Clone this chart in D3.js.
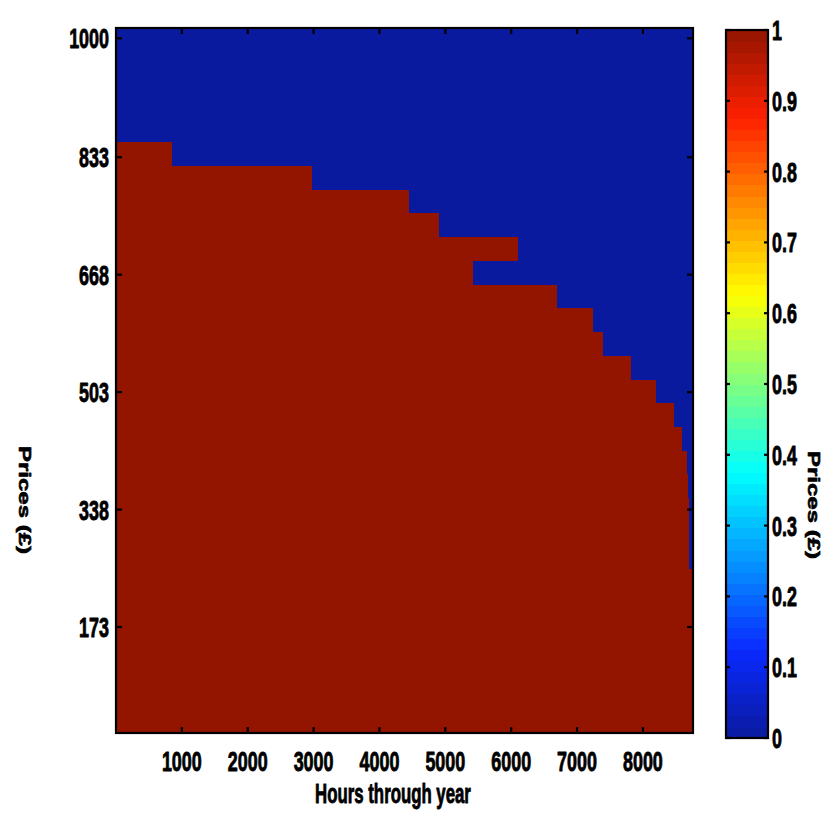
<!DOCTYPE html>
<html><head><meta charset="utf-8">
<script src="https://cdn.jsdelivr.net/npm/d3@7"></script>
<style>html,body{margin:0;padding:0;background:#fff}svg{display:block}</style>
</head><body><svg id="c" width="826" height="813"></svg>
<script>
// ---- data ----
const xTicks = [1000, 2000, 3000, 4000, 5000, 6000, 7000, 8000];
const yTicks = [173, 338, 503, 668, 833, 1000];
const cTicks = [0, 0.1, 0.2, 0.3, 0.4, 0.5, 0.6, 0.7, 0.8, 0.9, 1];
const hourRange = [0.5, 8760.5];
const priceRange = [24.1, 1014.5];
// price band edges, top to bottom (30 rows)
const priceEdges = [1014.5, 987.1, 953.8, 920.5, 887.2, 853.9, 820.6, 787.3, 754.0, 720.6,
  687.3, 654.0, 620.6, 587.3, 554.0, 520.6, 487.3, 454.0, 420.6, 387.3,
  354.0, 320.6, 287.3, 254.0, 220.6, 187.3, 154.0, 120.6, 87.3, 54.0, 24.1];
// last hour of each row that has value 1 (value 1 from hour 1 to this hour, 0 after)
const redEndHour = [0, 0, 0, 0, 0, 855, 2980, 4453, 4904, 6107,
  5424, 6700, 7246, 7393, 7819, 8194, 8476, 8593, 8664, 8684,
  8705, 8705, 8705, 8760, 8760, 8760, 8760, 8760, 8760, 8760];
const jetStops = [0, 0.125, 0.375, 0.625, 0.875, 1];
const jetColors = ["#0a1a9e", "#0a2aff", "#00ffff", "#ffff00", "#ff2000", "#931500"];
const xLabel = "Hours through year";
const yLabel = "Prices (£)";
const cLabel = "Prices (£)";

// ---- layout ----
const L = 116, R = 693, T = 28, B = 733;
const CL = 726, CR = 768, CT = 30, CB = 738;
const SX = 0.64; // horizontal text compression

const svg = d3.select("#c");
const x = d3.scaleLinear().domain(hourRange).range([L, R]);
const y = d3.scaleLinear().domain(priceRange).range([B, T]);
const jet = d3.scaleLinear().domain(jetStops).range(jetColors).interpolate(d3.interpolateRgb);
const cs = d3.scaleLinear().domain([0, 1]).range([CB, CT]);

// cells
const cells = [];
redEndHour.forEach((e, i) => {
  const top = priceEdges[i], bot = priceEdges[i + 1];
  if (e > 0) cells.push({x0: hourRange[0], x1: e + 0.5, top, bot, v: 1});
  if (e < 8760) cells.push({x0: e + 0.5, x1: hourRange[1], top, bot, v: 0});
});
svg.append("g").selectAll("rect").data(cells).join("rect")
  .attr("x", d => x(d.x0)).attr("width", d => x(d.x1) - x(d.x0))
  .attr("y", d => y(d.top)).attr("height", d => y(d.bot) - y(d.top) + 0.5)
  .attr("fill", d => jet(d.v)).attr("shape-rendering", "crispEdges");

// frame + ticks
const ax = svg.append("g").attr("stroke", "#000").attr("stroke-width", 2.2).attr("fill", "none");
ax.append("rect").attr("x", L).attr("y", T).attr("width", R - L).attr("height", B - T);
const tl = 6;
xTicks.forEach(v => {
  ax.append("line").attr("x1", x(v)).attr("x2", x(v)).attr("y1", B).attr("y2", B - tl);
  ax.append("line").attr("x1", x(v)).attr("x2", x(v)).attr("y1", T).attr("y2", T + tl);
});
yTicks.forEach(v => {
  ax.append("line").attr("x1", L).attr("x2", L + tl).attr("y1", y(v)).attr("y2", y(v));
  ax.append("line").attr("x1", R).attr("x2", R - tl).attr("y1", y(v)).attr("y2", y(v));
});

function txt(g, s, px, py, anchor, size, extra) {
  const gg = g.append("g").attr("transform", `translate(${px},${py}) ${extra || `scale(${SX},1)`}`);
  gg.append("text").text(s).attr("text-anchor", anchor)
    .attr("font-family", "'Liberation Sans', Arial, sans-serif").attr("font-weight", "bold")
    .attr("font-size", size).attr("fill", "#000")
    .attr("stroke", "#000").attr("stroke-width", 0.9).attr("stroke-linejoin", "round");
}
const tg = svg.append("g");
xTicks.forEach(v => txt(tg, String(v), x(v), 771, "middle", 28));
yTicks.forEach(v => txt(tg, String(v), 109, y(v) + 10, "end", 28));
txt(tg, xLabel, 393, 803, "middle", 28, "scale(0.6,1)");
txt(tg, yLabel, 19, 500, "middle", 24, "scale(0.72,1) rotate(90)");

// colorbar
const nb = 64;
const bands = d3.range(nb).map(i => ({a: i / nb, b: (i + 1) / nb, c: (i + 0.5) / nb}));
svg.append("g").selectAll("rect").data(bands).join("rect")
  .attr("x", CL).attr("width", CR - CL)
  .attr("y", d => cs(d.b)).attr("height", d => cs(d.a) - cs(d.b) + 0.6)
  .attr("fill", d => jet(d.c)).attr("shape-rendering", "crispEdges");
const cg = svg.append("g").attr("stroke", "#000").attr("stroke-width", 2.2).attr("fill", "none");
cg.append("rect").attr("x", CL).attr("y", CT).attr("width", CR - CL).attr("height", CB - CT);
cTicks.forEach(v => {
  cg.append("line").attr("x1", CL).attr("x2", CL + 4).attr("y1", cs(v)).attr("y2", cs(v));
  cg.append("line").attr("x1", CR).attr("x2", CR - 4).attr("y1", cs(v)).attr("y2", cs(v));
});
cTicks.forEach(v => txt(tg, String(v), 772, cs(v) + 10, "start", 28));
txt(tg, cLabel, 808, 505, "middle", 24, "scale(0.72,1) rotate(90)");
</script></body></html>
